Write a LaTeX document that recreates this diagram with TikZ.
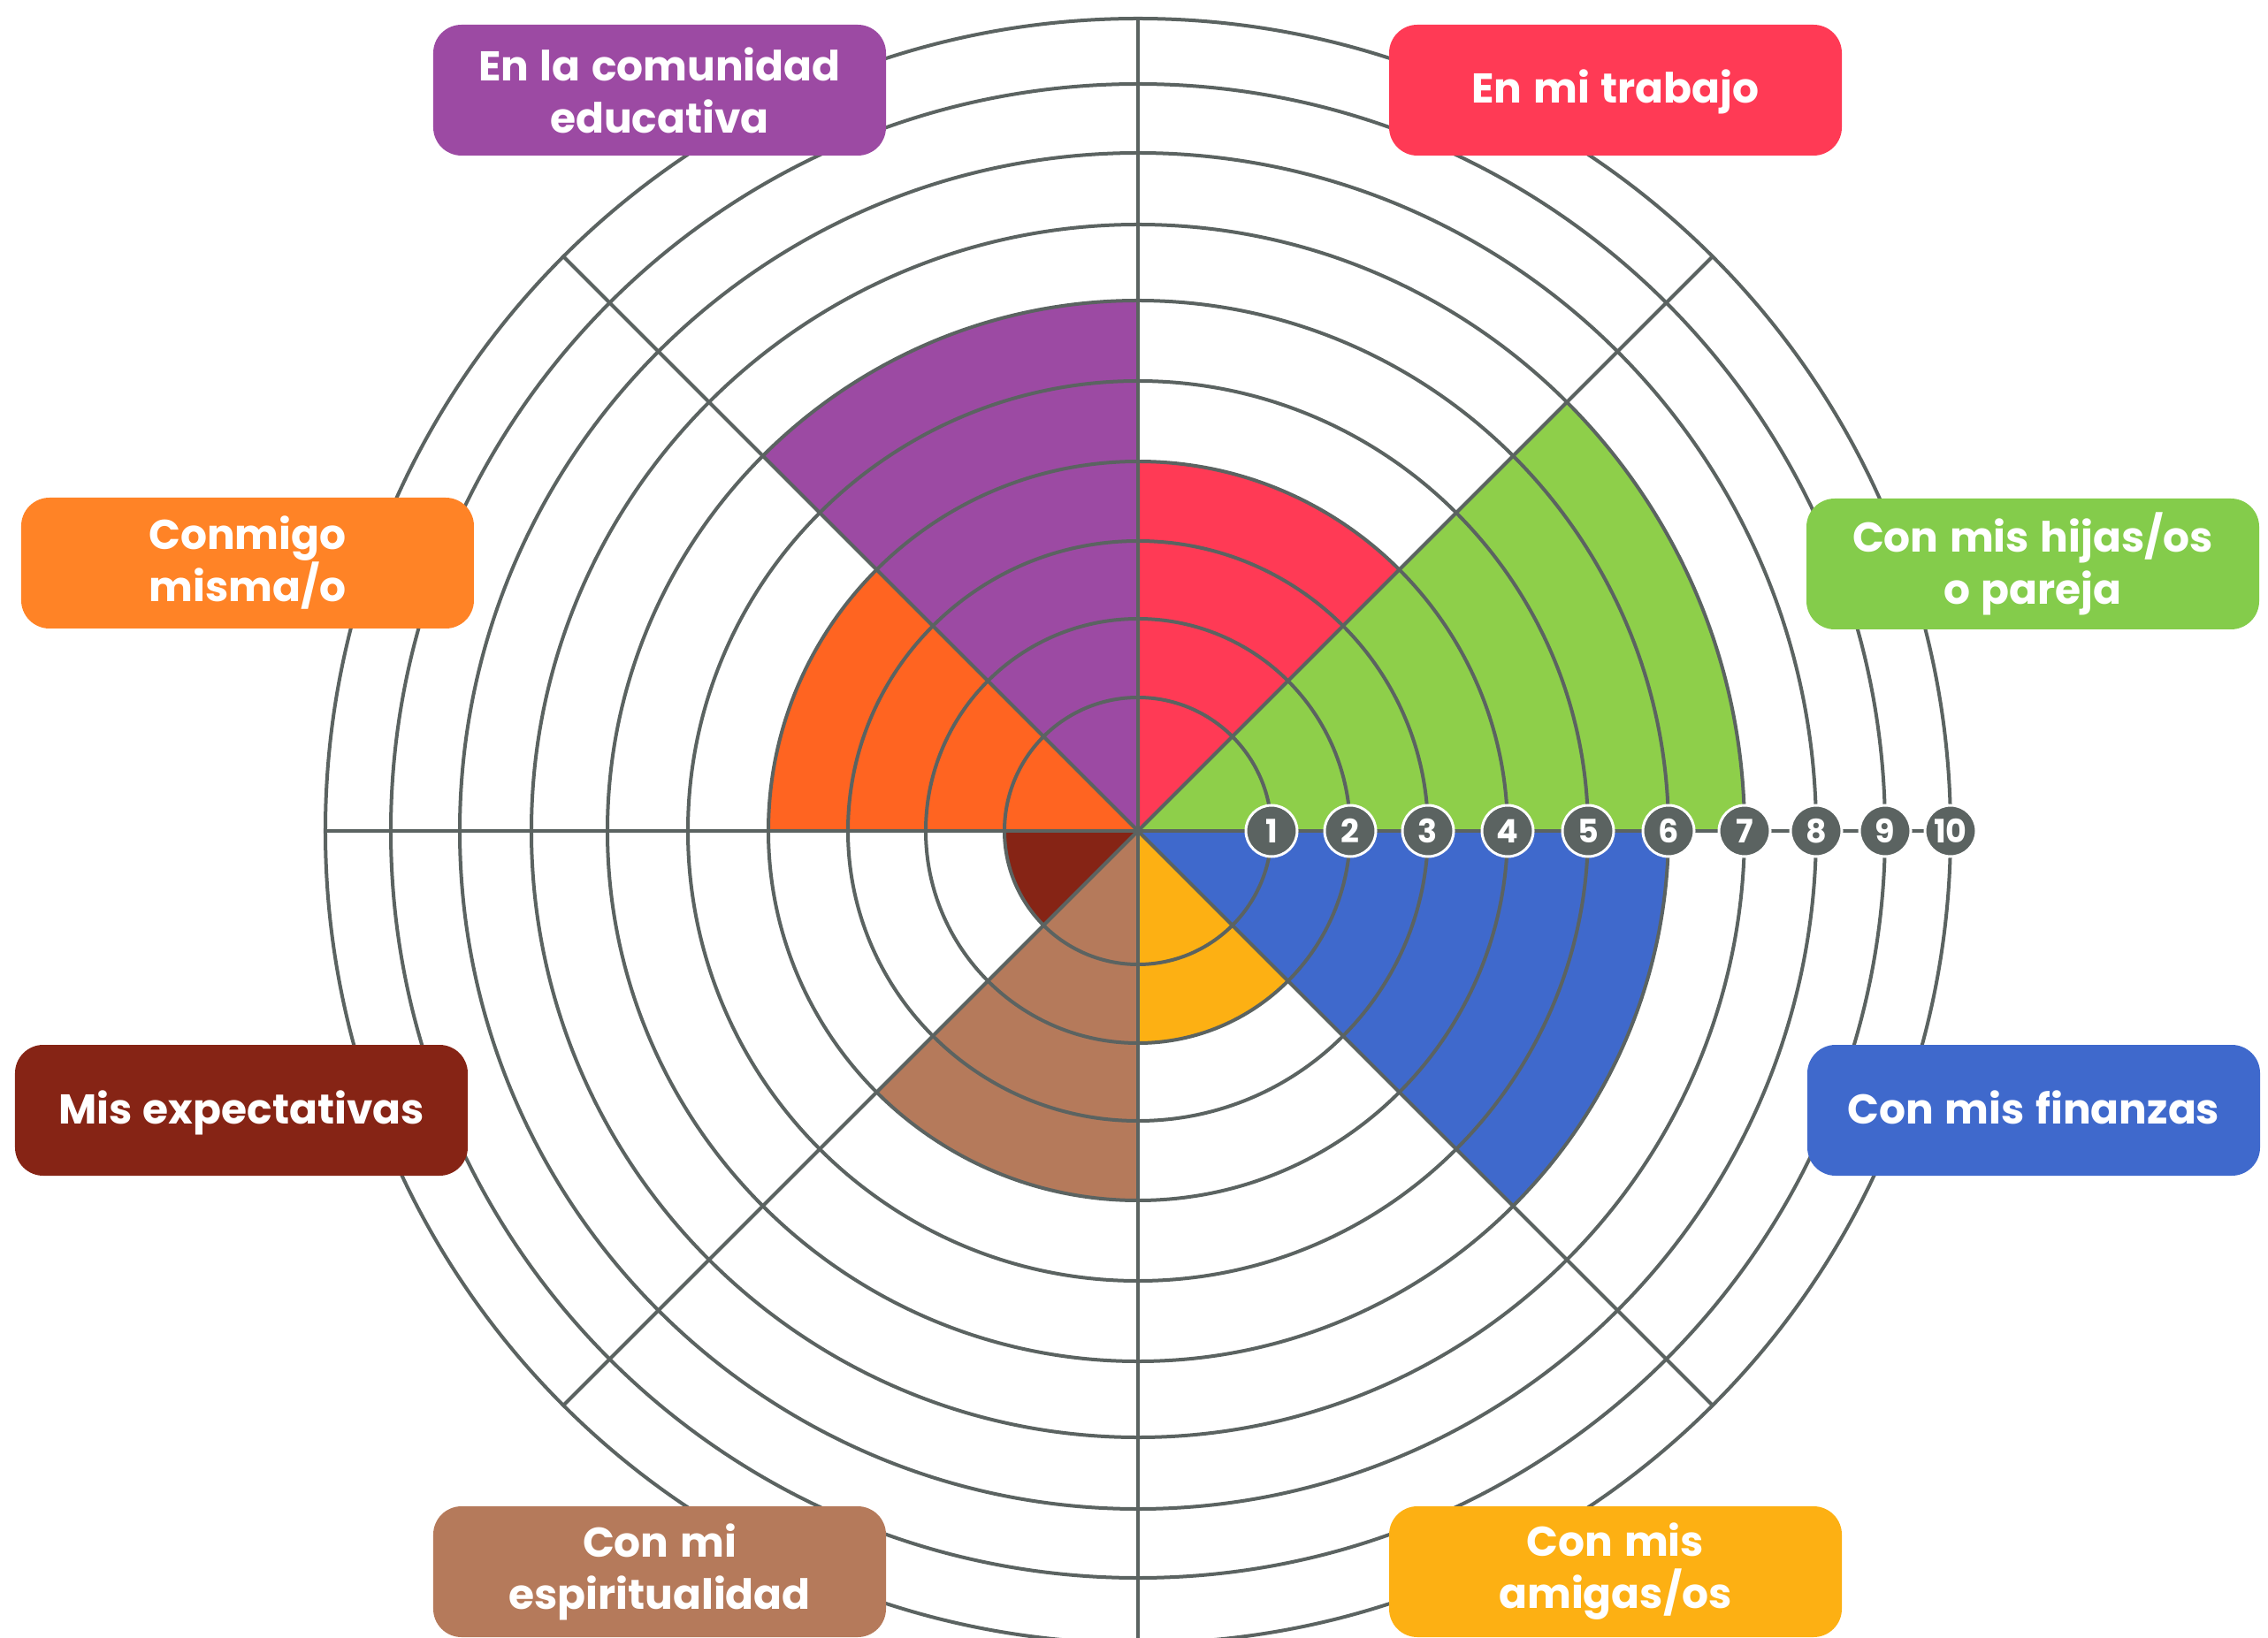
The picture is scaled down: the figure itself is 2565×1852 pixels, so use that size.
\documentclass[tikz,border=0pt]{standalone}
\usepackage{fontspec}
\setmainfont{Poppins}[WordSpace={1.25}]
\definecolor{cPurple}{HTML}{9C4AA3}
\definecolor{cRed}{HTML}{FF3A55}
\definecolor{cGreen}{HTML}{8ECF4A}
\definecolor{cGreenBox}{HTML}{84CC4B}
\definecolor{cBlue}{HTML}{3F69CC}
\definecolor{cYellow}{HTML}{FDB013}
\definecolor{cBrown}{HTML}{B57A5B}
\definecolor{cDark}{HTML}{862415}
\definecolor{cOrange}{HTML}{FF6421}
\definecolor{cOrangeBox}{HTML}{FF8326}
\definecolor{cGray}{HTML}{5B6361}
\tikzset{
  grid/.style={draw=cGray, line width=0.4mm},
  labelbox/.style={rounded corners=3.2mm, minimum width=51.2mm, minimum height=14.8mm,
    inner sep=0pt, text=white, align=center,
    font=\bfseries\fontsize{13.4pt}{16.8pt}\selectfont},
  oneline/.style={labelbox, text height=4.0mm, text depth=1.0mm},
  numc/.style={circle, fill=cGray, draw=white, line width=0.3mm, minimum size=5.8mm,
    inner sep=0pt, text=white, font=\bfseries\fontsize{10.4pt}{10.4pt}\selectfont},
}
\begin{document}
\begin{tikzpicture}[x=0.1mm,y=0.1mm]
\useasboundingbox (-1287,-912) rectangle (1278,940);
\clip (-1287,-912) rectangle (1278,940);
\coordinate (O) at (0,0);
% wedges
\fill[cGreen]  (O) -- (0:686)   arc[start angle=0,   end angle=45,  radius=686] -- cycle;
\fill[cRed]    (O) -- (45:418)  arc[start angle=45,  end angle=90,  radius=418] -- cycle;
\fill[cPurple] (O) -- (90:600)  arc[start angle=90,  end angle=135, radius=600] -- cycle;
\fill[cOrange] (O) -- (135:418) arc[start angle=135, end angle=180, radius=418] -- cycle;
\fill[cDark]   (O) -- (180:151) arc[start angle=180, end angle=225, radius=151] -- cycle;
\fill[cBrown]  (O) -- (225:418) arc[start angle=225, end angle=270, radius=418] -- cycle;
\fill[cYellow] (O) -- (270:240) arc[start angle=270, end angle=315, radius=240] -- cycle;
\fill[cBlue]   (O) -- (315:600) arc[start angle=315, end angle=360, radius=600] -- cycle;
% circles
\foreach \r in {151,240,328,418,509,600,686,767,845,919}
  \draw[grid] (O) circle[radius=\r];
% radial lines
\foreach \a in {0,45,...,315}
  \draw[grid] (O) -- (\a:919);
% number markers
\foreach \r/\n in {151/1,240/2,328/3,418/4,509/5,600/6,686/7,767/8,845/9,919/10}
  \node[numc] (n\n) at (\r,0) {\n};
% label boxes
\node[labelbox, fill=cPurple]    (lbComunidad) at (-541,838)    {En la comunidad\\educativa};
\node[oneline,  fill=cRed]       (lbTrabajo)   at (540,838)     {En mi trabajo};
\node[labelbox, fill=cGreenBox]  (lbHijas)     at (1012,302)    {Con mis hijas/os\\o pareja};
\node[labelbox, fill=cOrangeBox] (lbConmigo)   at (-1007,303)   {Conmigo\\misma/o};
\node[oneline,  fill=cBlue]      (lbFinanzas)  at (1013,-316)   {Con mis finanzas};
\node[oneline,  fill=cDark]      (lbExpect)    at (-1014,-316)  {Mis expectativas};
\node[labelbox, fill=cBrown]     (lbEspirit)   at (-541,-838)   {Con mi\\espiritualidad};
\node[labelbox, fill=cYellow]    (lbAmigas)    at (540,-838)    {Con mis\\amigas/os};
\end{tikzpicture}
\end{document}
